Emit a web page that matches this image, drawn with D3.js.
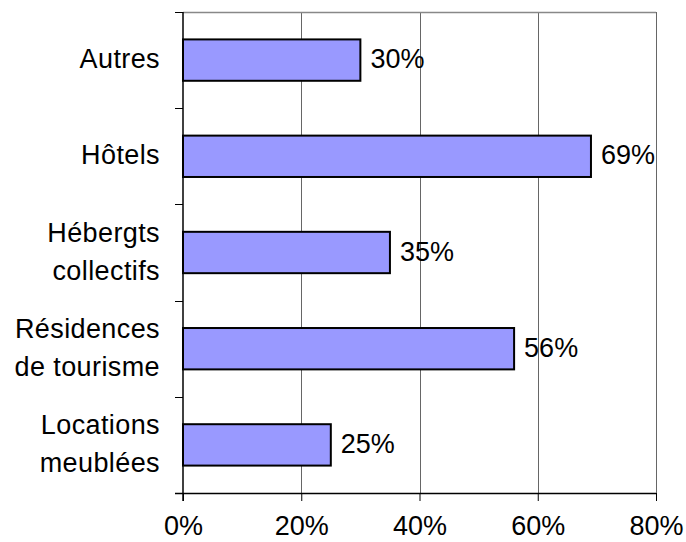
<!DOCTYPE html>
<html>
<head>
<meta charset="utf-8">
<script src="https://cdnjs.cloudflare.com/ajax/libs/d3/7.8.5/d3.min.js"></script>
<style>
  body { margin: 0; background: #fff; }
  text { font-family: "Liberation Sans", Arial, sans-serif; fill: #000; }
</style>
</head>
<body>
<svg class="chart"></svg>
<script>
// categories, top to bottom
var categories = [
  ["Autres"],
  ["Hôtels"],
  ["Hébergts", "collectifs"],
  ["Résidences", "de tourisme"],
  ["Locations", "meublées"]
];
var values = [30, 69, 35, 56, 25];
var xTicks = [0, 20, 40, 60, 80];

var screen = { width: 686, height: 542 };
var margins = { top: 12, bottom: 49, left: 183, right: 30 };
var width = screen.width - margins.left - margins.right;
var height = screen.height - margins.top - margins.bottom;

var svg = d3.select(".chart")
  .attr("width", screen.width)
  .attr("height", screen.height);

var g = svg.append("g")
  .attr("transform", "translate(" + margins.left + "," + margins.top + ")");

var xScale = d3.scaleLinear().domain([0, 80]).range([0, width]);
var yScale = d3.scaleBand()
  .domain(d3.range(categories.length))
  .range([0, height])
  .paddingInner(0.57)
  .paddingOuter(0.285);
var step = yScale.step();

// gridlines
g.append("g").selectAll("line")
  .data(xTicks.slice(1))
  .enter().append("line")
  .attr("x1", function(d) { return Math.round(xScale(d)) + 0.5; })
  .attr("x2", function(d) { return Math.round(xScale(d)) + 0.5; })
  .attr("y1", 0).attr("y2", height)
  .attr("stroke", "#666").attr("stroke-width", 1);

// top border
g.append("line")
  .attr("x1", 0).attr("x2", width)
  .attr("y1", 0.5).attr("y2", 0.5)
  .attr("stroke", "#888").attr("stroke-width", 1.5);

// bars
g.append("g").selectAll("rect")
  .data(values)
  .enter().append("rect")
  .attr("x", xScale(0))
  .attr("y", function(d, i) { return yScale(i); })
  .attr("width", function(d) { return xScale(d) - xScale(0); })
  .attr("height", yScale.bandwidth())
  .attr("fill", "#9999ff")
  .attr("stroke", "#000")
  .attr("stroke-width", 2);

// value labels
g.append("g").selectAll("text")
  .data(values)
  .enter().append("text")
  .attr("x", function(d) { return xScale(d) + 10; })
  .attr("y", function(d, i) { return yScale(i) + yScale.bandwidth() / 2; })
  .attr("dy", "0.3em")
  .attr("font-size", "27px")
  .text(function(d) { return d + "%"; });

// y axis line and category ticks
g.append("line")
  .attr("x1", 0).attr("x2", 0)
  .attr("y1", 0).attr("y2", height + 8)
  .attr("stroke", "#000").attr("stroke-width", 1.5);
g.append("g").selectAll("line")
  .data(d3.range(categories.length + 1))
  .enter().append("line")
  .attr("x1", -8).attr("x2", 0)
  .attr("y1", function(d) { return Math.round(d * step) + 0.5; })
  .attr("y2", function(d) { return Math.round(d * step) + 0.5; })
  .attr("stroke", "#000").attr("stroke-width", 1);

// category labels
var lineH = 38;
var labels = g.append("g").selectAll("text")
  .data(categories)
  .enter().append("text")
  .attr("text-anchor", "end")
  .attr("font-size", "27px")
  .attr("letter-spacing", "0.4px")
  .attr("transform", function(d, i) {
    return "translate(-23," + (yScale(i) + yScale.bandwidth() / 2) + ")";
  });
labels.selectAll("tspan")
  .data(function(d) { return d; })
  .enter().append("tspan")
  .attr("x", 0)
  .attr("y", function(d, j, nodes) {
    var n = nodes.length;
    return (j - (n - 1) / 2) * lineH;
  })
  .attr("dy", "0.3em")
  .text(function(d) { return d; });

// x axis
var xAxis = d3.axisBottom(xScale)
  .tickValues(xTicks)
  .tickSize(8)
  .tickPadding(15)
  .tickFormat(function(d) { return d + "%"; });
var xg = g.append("g")
  .attr("transform", "translate(0," + height + ")")
  .call(xAxis);
xg.select(".domain").attr("stroke", "#000").attr("stroke-width", 1.5)
  .attr("d", "M-8,0.5H" + width);
xg.selectAll(".tick line").attr("stroke", "#000");
xg.selectAll(".tick text")
  .attr("font-family", "Liberation Sans, Arial, sans-serif")
  .attr("font-size", "27px")
  .attr("fill", "#000");
</script>
</body>
</html>
